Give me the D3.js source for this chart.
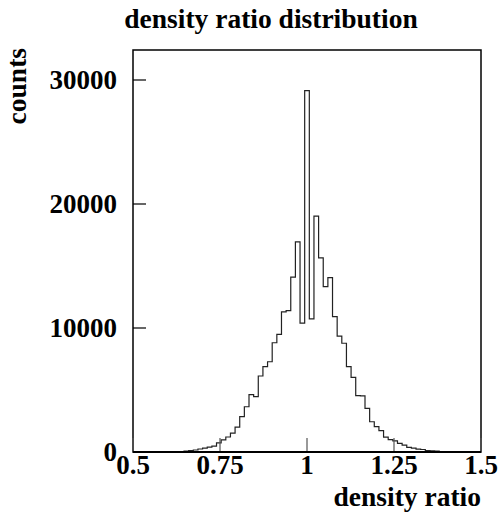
<!DOCTYPE html>
<html>
<head>
<meta charset="utf-8">
<script src="https://cdn.jsdelivr.net/npm/d3@7"></script>
<style>
  body { margin: 0; background: #fff; }
  text { font-family: "Liberation Serif", "Times New Roman", serif; font-weight: bold; fill: #000; }
</style>
</head>
<body>
<svg id="chart" width="498" height="520"></svg>
<script>
// histogram: 75 bins between 0.5 and 1.5
var xMin = 0.5, xMax = 1.5, nBins = 75;
var counts = [
  0, 0, 0, 0, 0, 0, 0, 0, 10, 20,
  40, 80, 120, 160, 240, 320, 400, 480, 730, 970,
  1210, 1530, 2000, 2850, 3650, 4620, 4460, 6130, 6880, 7280,
  8810, 9490, 11300, 11400, 14110, 16940, 10400, 29140, 10730, 19030,
  15650, 13330, 14060, 10910, 9350, 8770, 6880, 6020, 4540, 4520,
  3520, 2440, 2040, 1720, 1200, 1000, 900, 700, 560, 380,
  320, 230, 200, 110, 100, 70, 40, 20, 10, 0,
  0, 0, 0, 0, 0
];
var xTicks = [0.5, 0.75, 1, 1.25, 1.5];
var xTickLabels = ["0.5", "0.75", "1", "1.25", "1.5"];
var yTicks = [0, 10000, 20000, 30000];
var yTickLabels = ["0", "10000", "20000", "30000"];

var title = "density ratio distribution";
var xTitle = "density ratio";
var yTitle = "counts";

var W = 498, H = 520;
var margin = {left: 133, right: 17, top: 50, bottom: 68};

var svg = d3.select("#chart");

var x = d3.scaleLinear().domain([xMin, xMax]).range([margin.left, W - margin.right]);
var y = d3.scaleLinear().domain([0, 30000]).range([H - margin.bottom, H - margin.bottom - 372]);

var binW = (xMax - xMin) / nBins;

// step outline of the histogram
var pts = [[xMin, 0]];
counts.forEach(function(c, i) {
  pts.push([xMin + i * binW, c]);
  pts.push([xMin + (i + 1) * binW, c]);
});
pts.push([xMax, 0]);

var line = d3.line()
  .x(function(d) { return x(d[0]); })
  .y(function(d) { return y(d[1]); });

svg.append("path")
  .attr("d", line(pts))
  .attr("fill", "none")
  .attr("stroke", "#222")
  .attr("stroke-width", 1.2);

// frame
svg.append("rect")
  .attr("x", margin.left)
  .attr("y", margin.top)
  .attr("width", W - margin.left - margin.right)
  .attr("height", H - margin.top - margin.bottom)
  .attr("fill", "none")
  .attr("stroke", "#000")
  .attr("stroke-width", 1.5);

// y axis ticks (inward)
svg.selectAll(".ytick").data(yTicks).enter().append("line")
  .attr("x1", margin.left).attr("x2", margin.left + 13)
  .attr("y1", function(d) { return y(d); })
  .attr("y2", function(d) { return y(d); })
  .attr("stroke", "#000").attr("stroke-width", 1.2);

svg.selectAll(".ylab").data(yTicks).enter().append("text")
  .attr("x", margin.left - 16)
  .attr("y", function(d) { return y(d); })
  .attr("dy", "0.35em")
  .attr("text-anchor", "end")
  .attr("font-size", 27)
  .text(function(d, i) { return yTickLabels[i]; });

// x axis ticks (inward)
svg.selectAll(".xtick").data(xTicks).enter().append("line")
  .attr("x1", function(d) { return x(d); })
  .attr("x2", function(d) { return x(d); })
  .attr("y1", y(0)).attr("y2", y(0) - 14)
  .attr("stroke", "#555").attr("stroke-width", 1.2);

svg.selectAll(".xlab").data(xTicks).enter().append("text")
  .attr("x", function(d) { return x(d); })
  .attr("y", y(0) + 22)
  .attr("text-anchor", "middle")
  .attr("font-size", 27)
  .text(function(d, i) { return xTickLabels[i]; });

// bottom axis line a bit heavier
svg.append("line")
  .attr("x1", margin.left).attr("x2", W - margin.right)
  .attr("y1", y(0)).attr("y2", y(0))
  .attr("stroke", "#000").attr("stroke-width", 2);

// titles
svg.append("text")
  .attr("x", 271)
  .attr("y", 28)
  .attr("text-anchor", "middle")
  .attr("font-size", 27.5)
  .text(title);

svg.append("text")
  .attr("x", W - margin.right)
  .attr("y", 506)
  .attr("text-anchor", "end")
  .attr("font-size", 27.5)
  .text(xTitle);

svg.append("text")
  .attr("transform", "translate(26," + (margin.top - 2) + ") rotate(-90)")
  .attr("text-anchor", "end")
  .attr("font-size", 27.5)
  .text(yTitle);
</script>
</body>
</html>
